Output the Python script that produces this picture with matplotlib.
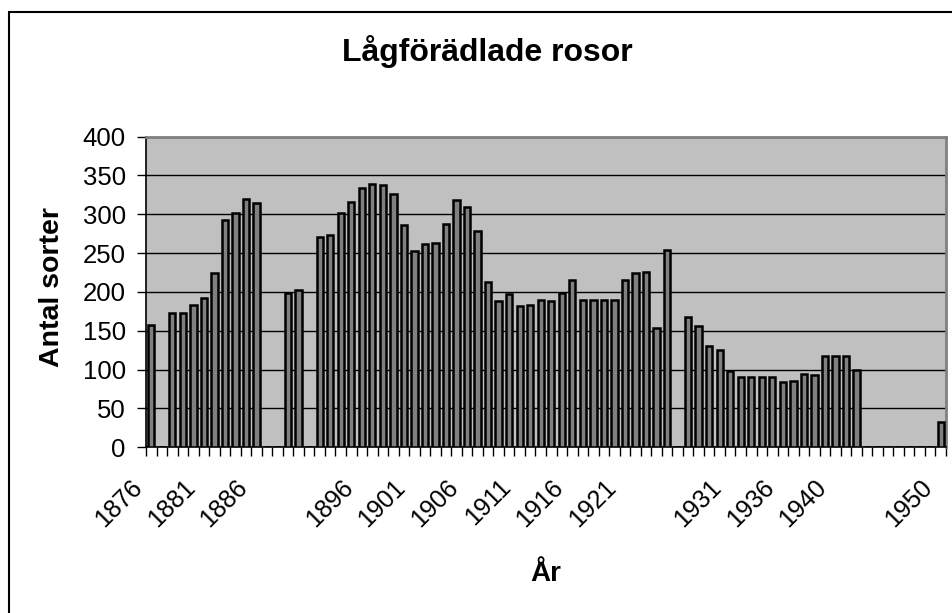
import matplotlib
matplotlib.use("Agg")
import matplotlib.pyplot as plt
import matplotlib.transforms as mtransforms
from matplotlib.patches import Rectangle
import numpy as np

plt.rcParams['font.family'] = ['Liberation Sans', 'DejaVu Sans']

title = "Lågförädlade rosor"
y_label = "Antal sorter"
x_label = "År"

# one value per category (76 categories), None = no bar
values = [157, None, 173, 173, 183, 192, 224, 292, 302, 320,
          314, None, None, 198, 203, None, 271, 273, 301, 316,
          334, 339, 338, 326, 286, 252, 262, 263, 288, 318,
          309, 278, 213, 188, 197, 182, 183, 189, 188, 198,
          215, 189, 189, 189, 189, 215, 224, 226, 153, 254,
          None, 168, 156, 130, 125, 98, 90, 90, 90, 90,
          84, 85, 94, 93, 117, 118, 118, 99, None, None,
          None, None, None, None, None, 33]

# labels shown on every 5th category
tick_labels = ['1876', '1881', '1886', '', '1896', '1901', '1906', '1911',
               '1916', '1921', '', '1931', '1936', '1940', '', '1950']

y_ticks = [0, 50, 100, 150, 200, 250, 300, 350, 400]

W, H = 952, 613
fig = plt.figure(figsize=(W / 100, H / 100), dpi=100)
fig.patch.set_facecolor('white')

left, right, top, bottom = 146, 946, 136.5, 447.3
ax = fig.add_axes([left / W, 1 - bottom / H, (right - left) / W, (bottom - top) / H])
ax.set_facecolor('#c0c0c0')

n = len(values)
x = np.arange(n)
vals = np.array([np.nan if v is None else v for v in values], dtype=float)
ax.bar(x, np.nan_to_num(vals), width=0.6, color='#808080', edgecolor='black',
       linewidth=1.8, zorder=3)

ax.set_xlim(-0.5, n - 0.5)
ax.set_ylim(0, 400)
ax.set_yticks(y_ticks)
ax.set_yticklabels([str(t) for t in y_ticks], fontsize=18.5)
ax.yaxis.grid(True, color='black', linewidth=1, zorder=1)
ax.set_axisbelow(True)

ax.set_xticks(np.arange(0, n, 5))
ax.set_xticklabels(tick_labels, fontsize=18, rotation=45, ha='right', va='top',
                   rotation_mode='anchor')
ax.set_xticks(np.arange(-0.5, n, 1), minor=True)
ax.tick_params(axis='x', which='major', length=0, pad=20)
ax.tick_params(axis='x', which='minor', length=6.5, width=1, color='black', direction='out')
ax.tick_params(axis='y', length=6.5, width=1, color='black', direction='out', pad=8)
offset = mtransforms.ScaledTranslation(-21 / 100, 0, fig.dpi_scale_trans)
for lbl in ax.get_xticklabels():
    lbl.set_transform(lbl.get_transform() + offset)

for s in ['top', 'right']:
    ax.spines[s].set_color('#808080')
    ax.spines[s].set_linewidth(2)
ax.spines['left'].set_color('black')
ax.spines['bottom'].set_color('black')
ax.spines['left'].set_linewidth(1.2)
ax.spines['bottom'].set_linewidth(1.2)

fig.text(487 / W, 1 - 52 / H, title, ha='center', va='center', fontsize=23, fontweight='bold')
fig.text(52 / W, 1 - 287 / H, y_label, ha='center', va='center', rotation=90,
         fontsize=20.5, fontweight='bold')
fig.text(546 / W, 1 - 574 / H, x_label, ha='center', va='center', fontsize=20, fontweight='bold')

# outer chart frame (cut at right and bottom edges)
fig.patches.append(Rectangle((8.7 / W, -0.2), 1.2, 1.2 - 12 / H, transform=fig.transFigure,
                             fill=False, edgecolor='black', linewidth=1.5))

fig.savefig('out.png', dpi=100)
